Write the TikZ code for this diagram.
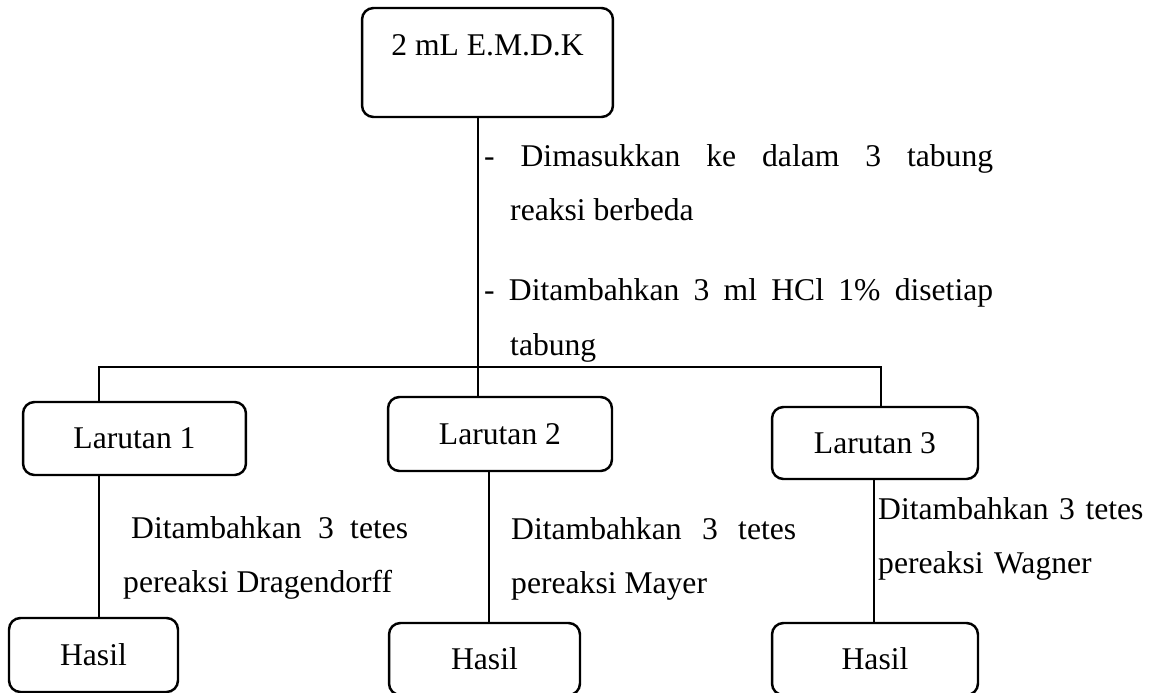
\documentclass[tikz,border=0pt]{standalone}
\usepackage{fontspec}
\setmainfont{Liberation Serif}
\tikzset{
  every picture/.style={font=\fontsize{18}{31.3}\selectfont, line width=1.4pt},
  box/.style={draw, rounded corners=6.5pt, align=center, inner sep=0pt},
  note/.style={align=justify, inner sep=0pt, anchor=base west, text width=#1},
  note/.default=5.7cm,
}
\newcommand{\hangline}{\hangindent=0.52cm\hangafter=1\relax\linebreak}
\begin{document}
\begin{tikzpicture}[x=0.02cm, y=-0.02cm]
  \useasboundingbox (0,0) rectangle (1161,693);
  \node[box, minimum width=5.02cm, text height=0.94cm, text depth=1.24cm] (emdk) at (487.5,62.5) {2 mL E.M.D.K};
  \node[box, minimum width=4.46cm, minimum height=1.46cm] (sol1) at (134.5,438.5) {Larutan 1};
  \node[box, minimum width=4.48cm, minimum height=1.48cm] (sol2) at (500,434) {Larutan 2};
  \node[box, minimum width=4.12cm, minimum height=1.44cm] (sol3) at (875,443) {Larutan 3};
  \node[box, minimum width=3.38cm, minimum height=1.48cm] (res1) at (93.5,655) {Hasil};
  \node[box, minimum width=3.82cm, minimum height=1.44cm] (res2) at (484.5,659) {Hasil};
  \node[box, minimum width=4.12cm, minimum height=1.44cm] (res3) at (875,659) {Hasil};
  \node[note=10.18cm] (prep) at (483,166) {- Dimasukkan ke dalam 3 tabung\hangline reaksi berbeda\par\vspace{0.5cm}- Ditambahkan 3 ml HCl 1\% disetiap\hangline tabung\par};
  \node[note] (drag) at (122,538) {\hspace*{0.16cm}Ditambahkan 3 tetes\linebreak pereaksi Dragendorff};
  \node[note] (mayer) at (510,539) {Ditambahkan 3 tetes\linebreak pereaksi Mayer};
  \node[note, align=left] (wagner) at (877,519) {Ditambahkan 3 tetes\\pereaksi Wagner};
  \coordinate (split) at (478,367);
  \coordinate (fork1) at (99,367);
  \coordinate (fork3) at (881,367);
  \draw (split |- emdk.south) -- (split |- sol2.north);
  \draw (fork1 |- sol1.north) -- (fork1) -- (fork3) -- (fork3 |- sol3.north);
  \foreach \i/\x in {1/99, 2/489, 3/874} {
    \coordinate (drop\i) at (\x,0);
    \draw (drop\i |- sol\i.south) -- (drop\i |- res\i.north);
  }
\end{tikzpicture}
\end{document}
